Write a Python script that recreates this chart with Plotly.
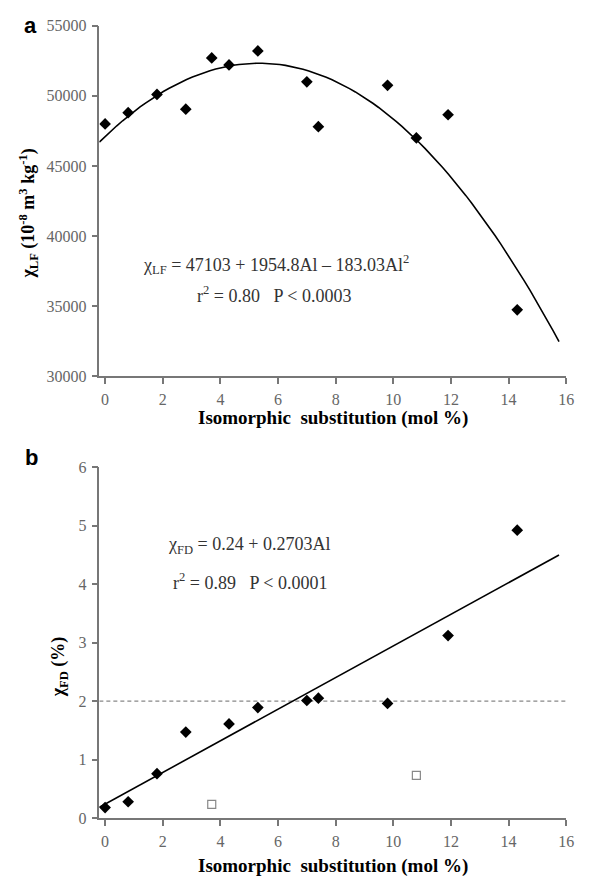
import numpy as np
import plotly.graph_objects as go

# ---- data ----
al_a = [0.0, 0.8, 1.8, 2.8, 3.7, 4.3, 5.3, 7.0, 7.4, 9.8, 10.8, 11.9, 14.3]
chi_lf = [48000, 48800, 50100, 49050, 52700, 52200, 53200, 51000, 47800, 50750, 47000, 48650, 34750]

al_b = [0.0, 0.8, 1.8, 2.8, 4.3, 5.3, 7.0, 7.4, 9.8, 11.9, 14.3]
chi_fd = [0.18, 0.28, 0.76, 1.47, 1.61, 1.89, 2.01, 2.05, 1.96, 3.12, 4.92]

al_open = [3.7, 10.8]
chi_fd_open = [0.235, 0.73]

# printed fit coefficients
quad_c = [47103, 1954.8, -183.03]
lin_c = [0.24, 0.2703]
fit_x_range = [-0.2, 15.75]
threshold = 2.0

x_ticks = [0, 2, 4, 6, 8, 10, 12, 14, 16]
ya_ticks = [30000, 35000, 40000, 45000, 50000, 55000]
yb_ticks = [0, 1, 2, 3, 4, 5, 6]

W, H = 591, 886
SERIF = "Liberation Serif"
fx = np.linspace(fit_x_range[0], fit_x_range[1], 80)
fy_quad = quad_c[0] + quad_c[1] * fx + quad_c[2] * fx ** 2
lx = np.array(fit_x_range)
ly = lin_c[0] + lin_c[1] * lx

fig = go.Figure()
fig.add_trace(go.Scatter(x=fx, y=fy_quad, mode="lines", line=dict(color="black", width=1.6),
                         xaxis="x", yaxis="y", showlegend=False, hoverinfo="skip"))
fig.add_trace(go.Scatter(x=al_a, y=chi_lf, mode="markers",
                         marker=dict(symbol="diamond", size=9, color="black"),
                         xaxis="x", yaxis="y", showlegend=False))
fig.add_trace(go.Scatter(x=[-0.2, 16], y=[threshold, threshold], mode="lines",
                         line=dict(color="#888888", width=1.2, dash="4px,3px"),
                         xaxis="x2", yaxis="y2", showlegend=False, hoverinfo="skip"))
fig.add_trace(go.Scatter(x=lx, y=ly, mode="lines", line=dict(color="black", width=1.6),
                         xaxis="x2", yaxis="y2", showlegend=False, hoverinfo="skip"))
fig.add_trace(go.Scatter(x=al_b, y=chi_fd, mode="markers",
                         marker=dict(symbol="diamond", size=9, color="black"),
                         xaxis="x2", yaxis="y2", showlegend=False))
fig.add_trace(go.Scatter(x=al_open, y=chi_fd_open, mode="markers",
                         marker=dict(symbol="square-open", size=8, color="#888888",
                                     line=dict(width=1.2, color="#888888")),
                         xaxis="x2", yaxis="y2", showlegend=False))

tickfont = dict(family=SERIF, size=16, color="#666666")
axcommon = dict(showline=True, linecolor="#777777", linewidth=1.5, ticks="outside",
                ticklen=6, tickwidth=1.5, tickcolor="#777777", showgrid=False,
                zeroline=False, tickfont=tickfont, mirror=False, tickformat="d",
                ticklabelstandoff=2)

xdom = [100.7 / W, 574 / W]
fig.update_layout(
    autosize=True, margin=dict(l=0, r=0, t=0, b=0),
    paper_bgcolor="white", plot_bgcolor="white",
    font=dict(family=SERIF),
    xaxis=dict(domain=xdom, range=[-0.2, 16], tickvals=x_ticks, anchor="y", **axcommon),
    yaxis=dict(domain=[1 - 375.7 / H, 1 - 18 / H], range=[30000, 55000], tickvals=ya_ticks,
               anchor="x", **axcommon),
    xaxis2=dict(domain=xdom, range=[-0.2, 16], tickvals=x_ticks, anchor="y2", **axcommon),
    yaxis2=dict(domain=[1 - 826 / H, 1 - 468 / H], range=[0, 6], tickvals=yb_ticks,
                anchor="x2", **axcommon),
)

def px(x):
    return x / W

def py(y):
    return 1 - y / H

titlefont = dict(family=SERIF, size=19, color="black")
ytitlefont = dict(family=SERIF, size=18, color="black")
eqfont = dict(family=SERIF, size=18, color="#333333")
nb = "\u00a0"
ann = [
    dict(text="<b>a</b>", x=px(31), y=py(18), font=dict(family="Liberation Sans", size=22, color="black")),
    dict(text="<b>b</b>", x=px(32), y=py(458), font=dict(family="Liberation Sans", size=22, color="black")),
    dict(text="<b>Isomorphic" + nb + nb + "substitution (mol %)</b>", x=px(338), y=py(418), font=titlefont),
    dict(text="<b>Isomorphic" + nb + nb + "substitution (mol %)</b>", x=px(338), y=py(875), font=titlefont),
    dict(text="<b>χ<sub>LF</sub> (10<sup>-8</sup> m<sup>3</sup> kg<sup>-1</sup>)</b>", x=px(29), y=py(210),
         textangle=-90, font=ytitlefont),
    dict(text="<b>χ<sub>FD</sub> (%)</b>", x=px(60), y=py(672), textangle=-90, font=ytitlefont),
    dict(text="χ<sub>LF</sub> = 47103 + 1954.8Al – 183.03Al<sup>2</sup>", x=px(280), y=py(262), font=eqfont),
    dict(text="r<sup>2</sup> = 0.80" + nb * 3 + "P < 0.0003", x=px(278), y=py(292), font=eqfont),
    dict(text="χ<sub>FD</sub> = 0.24 + 0.2703Al", x=px(252), y=py(548), font=eqfont),
    dict(text="r<sup>2</sup> = 0.89" + nb * 3 + "P < 0.0001", x=px(253), y=py(585), font=eqfont),
]
for a in ann:
    a.update(xref="paper", yref="paper", showarrow=False, xanchor="center", yanchor="middle")
fig.update_layout(annotations=ann)

fig.write_html(
    "out.html",
    config={"displayModeBar": False, "responsive": True},
    default_width="100vw",
    default_height="100vh",
    post_script="document.body.style.margin='0';document.body.style.overflow='hidden';"
                "document.documentElement.style.overflow='hidden';"
                "Plotly.Plots.resize(document.getElementById('{plot_id}'));",
)
